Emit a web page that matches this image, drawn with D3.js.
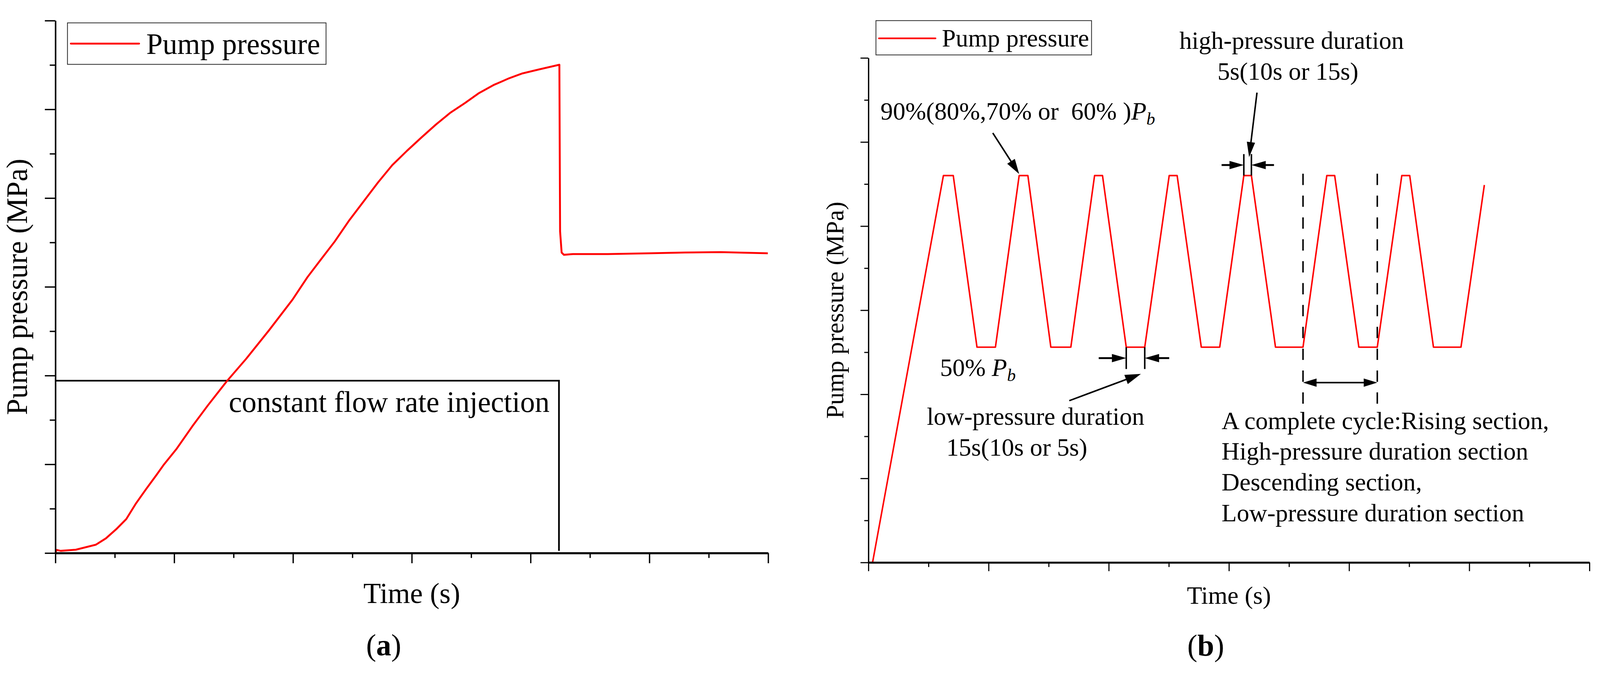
<!DOCTYPE html>
<html><head><meta charset="utf-8">
<script src="https://cdn.jsdelivr.net/npm/d3@7"></script>
<style>
html,body{margin:0;padding:0;background:#fff;overflow:hidden;width:100%;height:100%}
#chart{display:block;width:100vw;height:100vh}
text{font-family:"Liberation Serif","Times New Roman",serif;fill:#000}
</style>
</head><body>
<svg id="chart" viewBox="0 0 4245 1740" preserveAspectRatio="xMidYMid meet" xmlns="http://www.w3.org/2000/svg"></svg>
<script>
// ---------- DATA (axis units: one unit = one tick interval; the axes carry no numeric labels) ----------
// Panel (a): constant-flow injection test
const timeA = [0, 0.02, 0.089, 0.343, 0.679, 0.85, 1.022, 1.193, 1.358, 1.529, 1.701, 1.828, 2.043, 2.304, 2.564, 2.887, 3.211, 3.598, 3.992, 4.245, 4.461, 4.702, 4.95, 5.191, 5.432, 5.673, 5.921, 6.162, 6.403, 6.644, 6.892, 7.133, 7.374, 7.622, 7.863, 8.129, 8.485, 8.497, 8.523, 8.561, 8.713, 9.3, 10.0, 10.6, 11.2, 11.994];
const pressureA = [0.01, 0.07, 0.05, 0.076, 0.187, 0.331, 0.535, 0.765, 1.122, 1.445, 1.759, 1.997, 2.354, 2.855, 3.323, 3.875, 4.377, 5.023, 5.711, 6.221, 6.6, 7.02, 7.504, 7.929, 8.354, 8.745, 9.068, 9.365, 9.654, 9.918, 10.139, 10.368, 10.546, 10.691, 10.81, 10.895, 11.005, 7.249, 6.773, 6.722, 6.739, 6.739, 6.756, 6.773, 6.782, 6.756];
const injectionLevelA = 3.884;   // constant flow rate injection bracket height
const injectionEndA = 8.478;     // time where injection stops

// Panel (b): cyclic loading
const timeB = [0, 0.069, 1.248, 1.412, 1.807, 2.114, 2.509, 2.654, 3.036, 3.369, 3.764, 3.896, 4.291, 4.599, 5.006, 5.138, 5.54, 5.847, 6.248, 6.374, 6.775, 7.233, 7.629, 7.76, 8.162, 8.469, 8.877, 9.009, 9.404, 9.862, 10.251];
const pressureB = [0, 0, 9.202, 9.202, 5.121, 5.121, 9.202, 9.202, 5.121, 5.121, 9.202, 9.202, 5.121, 5.121, 9.202, 9.202, 5.121, 5.121, 9.202, 9.202, 5.121, 5.121, 9.202, 9.202, 5.121, 5.121, 9.202, 9.202, 5.121, 5.121, 8.978];
const cycleBounds = [7.233, 8.469];

const tickIdx = d3.range(0, 13);
const legendLabel = "Pump pressure";
const yTitle = "Pump pressure (MPa)";
const xTitle = "Time (s)";
const cycleLines = ["A complete cycle:Rising section,", "High-pressure duration section", "Descending section,", "Low-pressure duration section"];

// ---------- DRAW ----------
const svg = d3.select("#chart");
svg.append("rect").attr("width", 4245).attr("height", 1740).attr("fill", "#fff");

function arrow(g, x1, y1, x2, y2, headLen, headW, sw) {
  const dx = x2 - x1, dy = y2 - y1, L = Math.hypot(dx, dy);
  const ux = dx / L, uy = dy / L;
  const bx = x2 - ux * headLen, by = y2 - uy * headLen;
  g.append("line").attr("x1", x1).attr("y1", y1).attr("x2", bx + ux * 2).attr("y2", by + uy * 2)
    .attr("stroke", "#000").attr("stroke-width", sw);
  g.append("path").attr("d", `M${x2},${y2}L${bx - uy * headW / 2},${by + ux * headW / 2}L${bx + uy * headW / 2},${by - ux * headW / 2}Z`)
    .attr("fill", "#000");
}

function drawAxes(g, x, y, o) {
  const ya = g.append("g").attr("transform", `translate(${x.range()[0]},0)`)
    .call(d3.axisLeft(y).tickValues(tickIdx).tickFormat("").tickSizeOuter(0));
  ya.select(".domain").attr("stroke-width", o.aw).attr("stroke", "#000");
  ya.selectAll(".tick line").attr("stroke-width", o.tw).attr("x2", d => d % 2 === 0 ? -o.yMaj : -o.yMin);
  const xa = g.append("g").attr("transform", `translate(0,${y.range()[0]})`)
    .call(d3.axisBottom(x).tickValues(tickIdx).tickFormat("").tickSizeOuter(0));
  xa.select(".domain").attr("stroke-width", o.aw + 1.5).attr("stroke", "#000");
  xa.selectAll(".tick line").attr("stroke-width", o.tw).attr("y2", d => d % 2 === 0 ? o.xMaj : o.xMin);
}

// ===== Panel (a) =====
const xA = d3.scaleLinear().domain([0, 12]).range([147, 2038]);
const yA = d3.scaleLinear().domain([0, 12]).range([1435, 23]);
const gA = svg.append("g");
const FA = 78;

gA.append("path")
  .attr("d", `M${xA(0)},${yA(injectionLevelA)}H${xA(injectionEndA)}V${yA(0) - 6}`)
  .attr("fill", "none").attr("stroke", "#000").attr("stroke-width", 4.5);
gA.append("text").attr("x", xA(2.919)).attr("y", yA(3.178)).attr("font-size", FA)
  .text("constant flow rate injection");

gA.append("path").datum(d3.zip(timeA, pressureA))
  .attr("d", d3.line().x(d => xA(d[0])).y(d => yA(d[1])))
  .attr("fill", "none").attr("stroke", "#ff0000").attr("stroke-width", 5).attr("stroke-linejoin", "round");

drawAxes(gA, xA, yA, {aw: 4, tw: 3.5, yMaj: 28, yMin: 15, xMaj: 27, xMin: 13});

gA.append("rect").attr("x", 179).attr("y", 29).attr("width", 686).attr("height", 110)
  .attr("fill", "#fff").attr("stroke", "#222").attr("stroke-width", 2);
gA.append("line").attr("x1", 188).attr("x2", 369).attr("y1", 84).attr("y2", 84)
  .attr("stroke", "#ff0000").attr("stroke-width", 5).attr("stroke-linecap", "round");
gA.append("text").attr("x", 388).attr("y", 111).attr("font-size", FA).text(legendLabel);

gA.append("text").attr("transform", `translate(71,${(yA(0) + yA(12)) / 2}) rotate(-90)`)
  .attr("text-anchor", "middle").attr("font-size", FA).text(yTitle);
gA.append("text").attr("x", (xA(0) + xA(12)) / 2).attr("y", 1567).attr("text-anchor", "middle")
  .attr("font-size", 76).text(xTitle);
const la = gA.append("text").attr("x", 1018).attr("y", 1706).attr("text-anchor", "middle").attr("font-size", 80);
la.append("tspan").text("(");
la.append("tspan").attr("font-weight", "bold").text("a");
la.append("tspan").text(")");

// ===== Panel (b) =====
const xB = d3.scaleLinear().domain([0, 12]).range([2304, 4217]);
const yB = d3.scaleLinear().domain([0, 12]).range([1460, 122]);
const gB = svg.append("g");
const FB = 66;

cycleBounds.forEach(t => {
  gB.append("line").attr("x1", xB(t)).attr("x2", xB(t)).attr("y1", yB(9.247)).attr("y2", yB(3.695))
    .attr("stroke", "#000").attr("stroke-width", 4).attr("stroke-dasharray", "30,28");
});

gB.append("path").datum(d3.zip(timeB, pressureB))
  .attr("d", d3.line().x(d => xB(d[0])).y(d => yB(d[1])))
  .attr("fill", "none").attr("stroke", "#ff0000").attr("stroke-width", 4).attr("stroke-linejoin", "round");

drawAxes(gB, xB, yB, {aw: 3.5, tw: 3, yMaj: 21, yMin: 11, xMaj: 23, xMin: 12});

gB.append("rect").attr("x", 2324).attr("y", 23).attr("width", 572).attr("height", 91)
  .attr("fill", "#fff").attr("stroke", "#222").attr("stroke-width", 2);
gB.append("line").attr("x1", 2332).attr("x2", 2482).attr("y1", 70).attr("y2", 70)
  .attr("stroke", "#ff0000").attr("stroke-width", 4.5).attr("stroke-linecap", "round");
gB.append("text").attr("x", 2499).attr("y", 92).attr("font-size", FB).text(legendLabel);

// 90% annotation
const t90 = gB.append("text").attr("x", xB(0.201)).attr("y", yB(10.538)).attr("font-size", FB).style("white-space", "pre");
t90.append("tspan").text("90%(80%,70% or  60% )");
t90.append("tspan").attr("font-style", "italic").text("P");
t90.append("tspan").attr("font-style", "italic").attr("font-size", FB * 0.7).attr("dy", 14).text("b");
arrow(gB, xB(2.07), yB(10.215), xB(2.509), yB(9.24), 40, 24, 4);

// high-pressure duration
gB.append("text").attr("x", xB(5.175)).attr("y", yB(12.215)).attr("font-size", FB).text("high-pressure duration");
gB.append("text").attr("x", xB(5.809)).attr("y", yB(11.48)).attr("font-size", FB).text("5s(10s or 15s)");
arrow(gB, xB(6.467), yB(11.175), xB(6.336), yB(9.64), 40, 22, 4);
[6.248, 6.374].forEach(t => gB.append("line").attr("x1", xB(t)).attr("x2", xB(t))
  .attr("y1", yB(9.713)).attr("y2", yB(9.202)).attr("stroke", "#000").attr("stroke-width", 4));
arrow(gB, xB(5.878), yB(9.453), xB(6.248), yB(9.453), 38, 22, 5);
arrow(gB, xB(6.75), yB(9.453), xB(6.374), yB(9.453), 38, 22, 5);

// 50% Pb
const t50 = gB.append("text").attr("x", xB(1.192)).attr("y", yB(4.439)).attr("font-size", FB).style("white-space", "pre");
t50.append("tspan").text("50% ");
t50.append("tspan").attr("font-style", "italic").text("P");
t50.append("tspan").attr("font-style", "italic").attr("font-size", FB * 0.7).attr("dy", 14).text("b");

// low-pressure duration
[4.291, 4.599].forEach(t => gB.append("line").attr("x1", xB(t)).attr("x2", xB(t))
  .attr("y1", yB(5.121)).attr("y2", yB(4.601)).attr("stroke", "#000").attr("stroke-width", 4));
arrow(gB, xB(3.833), yB(4.861), xB(4.291), yB(4.861), 38, 22, 5);
arrow(gB, xB(5.006), yB(4.861), xB(4.599), yB(4.861), 38, 22, 5);
arrow(gB, xB(3.343), yB(3.848), xB(4.535), yB(4.484), 42, 26, 4);
gB.append("text").attr("x", xB(0.972)).attr("y", yB(3.274)).attr("font-size", FB).text("low-pressure duration");
gB.append("text").attr("x", xB(1.298)).attr("y", yB(2.538)).attr("font-size", FB).text("15s(10s or 5s)");

// complete cycle
arrow(gB, xB(cycleBounds[0]) + 30, yB(4.278), xB(cycleBounds[1]), yB(4.278), 36, 22, 4);
arrow(gB, xB(cycleBounds[1]) - 30, yB(4.278), xB(cycleBounds[0]), yB(4.278), 36, 22, 4);
const baseY = [3.175, 2.448, 1.713, 0.978];
cycleLines.forEach((s, i) => gB.append("text").attr("x", xB(5.878)).attr("y", yB(baseY[i])).attr("font-size", FB).text(s));

gB.append("text").attr("transform", `translate(2238,${(yB(0) + yB(12)) / 2}) rotate(-90)`)
  .attr("text-anchor", "middle").attr("font-size", FB).text(yTitle);
gB.append("text").attr("x", (xB(0) + xB(12)) / 2).attr("y", 1570).attr("text-anchor", "middle")
  .attr("font-size", FB).text(xTitle);
const lb = gB.append("text").attr("x", 3199).attr("y", 1707).attr("text-anchor", "middle").attr("font-size", 80);
lb.append("tspan").text("(");
lb.append("tspan").attr("font-weight", "bold").text("b");
lb.append("tspan").text(")");
</script>
</body></html>
